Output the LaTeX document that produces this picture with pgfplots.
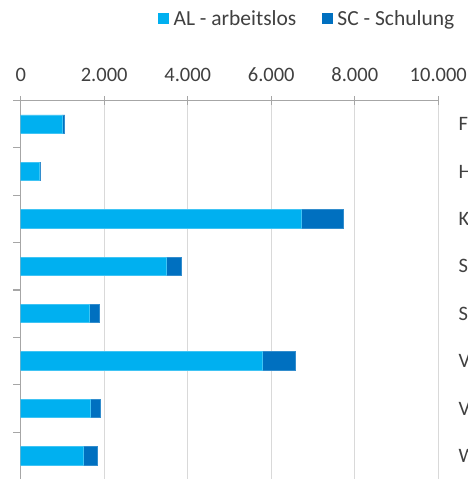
\documentclass[border=0pt]{standalone}
\usepackage{pgfplots}
\pgfplotsset{compat=1.18}
\usepackage{fontspec}
\setmainfont{Carlito}
\definecolor{al}{HTML}{00B0F0}
\definecolor{sc}{HTML}{0070C0}
\definecolor{txt}{HTML}{404040}
\definecolor{gridc}{HTML}{D9D9D9}
\definecolor{axc}{HTML}{A6A6A6}
\newcommand\lbl{\fontsize{20.5bp}{24bp}\selectfont}
\newcommand\leg{\fontsize{21.5bp}{25bp}\selectfont}
\begin{document}
\begin{tikzpicture}
\useasboundingbox (0,0) rectangle (468bp,-479bp);
\clip (0,0) rectangle (468bp,-479bp);
\begin{axis}[
  at={(20.7bp,-479.5bp)}, anchor=south west,
  scale only axis, width=417.6bp, height=379bp,
  xbar stacked, bar width=18.4bp,
  xmin=0, xmax=10000,
  ymin=-0.5, ymax=7.5, y dir=reverse,
  axis x line*=top, axis y line*=left,
  axis line style={draw=axc, line width=1.2bp},
  xtick={0,2000,4000,6000,8000,10000},
  scaled x ticks=false,
  xmajorgrids, grid style={draw=gridc, line width=1.3bp},
  tick align=outside,
  major tick length=9bp,
  minor tick length=7.4bp,
  major x tick style={draw=axc, line width=1.2bp, yshift=-4.5bp},
  ytick={0,1,2,3,4,5,6,7},
  yticklabels={},
  minor ytick={-0.5,0.5,1.5,2.5,3.5,4.5,5.5,6.5,7.5},
  minor y tick style={draw=axc, line width=1.2bp},
  major y tick style={draw=none},
  xticklabel style={font=\lbl, text=txt, anchor=base, yshift=10bp,
    /pgf/number format/.cd, 1000 sep={.}, assume math mode=true},
  legend columns=2,
  legend image code/.code={\fill[#1, draw=none] (0bp,-5.3bp) rectangle (10.6bp,5.3bp);},
  legend style={draw=none, fill=none, at={(0.3295,1.2158)}, anchor=west,
    inner sep=0pt, font=\leg, text=txt,
    nodes={inner sep=0pt},
    /tikz/every odd column/.append style={column sep=4.5bp},
    /tikz/every even column/.append style={column sep=26bp}},
]
\addplot[fill=al, draw=al!75!white, line width=0.8bp] coordinates {
  (990,0) (440,1) (6729,2) (3496,3) (1636,4) (5795,5) (1676,6) (1509,7)};
\addplot[fill=sc, draw=sc!80!white, line width=0.8bp] coordinates {
  (65,0) (30,1) (996,2) (342,3) (239,4) (774,5) (240,6) (318,7)};
\legend{AL - arbeitslos, SC - Schulung}
\end{axis}
\begin{axis}[
  at={(20.7bp,-479.5bp)}, anchor=south west,
  scale only axis, width=417.6bp, height=379bp,
  xmin=0, xmax=10000,
  ymin=-0.5, ymax=7.5, y dir=reverse,
  hide x axis,
  axis y line*=right,
  axis line style={draw=none},
  major tick length=0pt,
  ytick={0,1,2,3,4,5,6,7},
  yticklabels={F,H,K,S,S,V,V,W},
  yticklabel style={font=\lbl, text=txt, anchor=west, inner sep=0pt, xshift=20bp},
]
\end{axis}
\end{tikzpicture}
\end{document}
